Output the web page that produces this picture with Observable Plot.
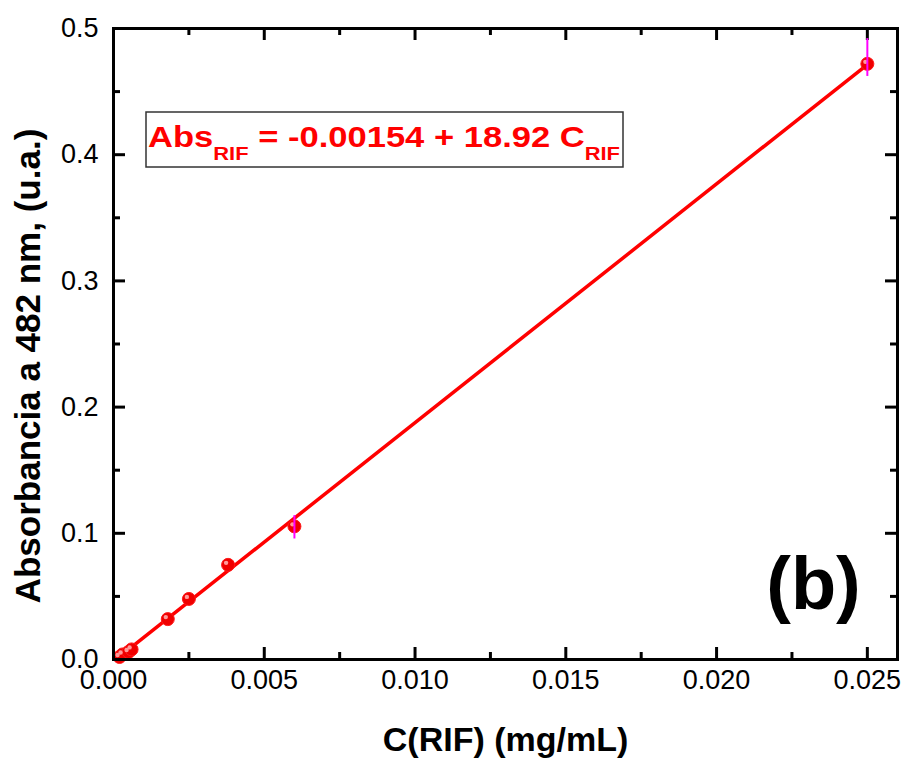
<!DOCTYPE html>
<html>
<head>
<meta charset="utf-8">
<script src="https://cdn.jsdelivr.net/npm/d3@7"></script>
<script src="https://cdn.jsdelivr.net/npm/@observablehq/plot@0.6"></script>
<style>
  html, body { margin: 0; padding: 0; background: #fff; }
  svg { font-family: "Liberation Sans", Arial, sans-serif; }
</style>
</head>
<body>
<div id="chart"></div>
<script>
// ---- data ----
const concRIF = [0.0002, 0.0003, 0.0005, 0.0006, 0.0018, 0.0025, 0.0038, 0.0060, 0.0250];
const absRIF  = [0.0020, 0.0040, 0.0060, 0.0080, 0.0320, 0.0480, 0.0750, 0.1055, 0.4720];
const errLow  = [null, null, null, null, null, null, null, 0.0955, 0.4620];
const errHigh = [null, null, null, null, null, null, null, 0.1140, 0.4920];
const fitIntercept = -0.00154;
const fitSlope = 18.92;
const fitRange = [0.0002, 0.0250];
const xMajorTicks = [0, 0.005, 0.010, 0.015, 0.020, 0.025];
const xMinorTicks = [0.0025, 0.0075, 0.0125, 0.0175, 0.0225];
const yMajorTicks = [0, 0.1, 0.2, 0.3, 0.4, 0.5];
const yMinorTicks = [0.05, 0.15, 0.25, 0.35, 0.45];
const xTitle = "C(RIF) (mg/mL)";
const yTitle = "Absorbancia a 482 nm, (u.a.)";
const panelLabel = "(b)";
const eqParts = [
  {text: "Abs", sub: false},
  {text: "RIF", sub: true},
  {text: " = -0.00154 + 18.92 C", sub: false},
  {text: "RIF", sub: true}
];

// ---- build tables ----
const points = concRIF.map((c, i) => ({x: c, y: absRIF[i], lo: errLow[i], hi: errHigh[i]}));
const errs = points.filter(d => d.lo != null);
const fitLine = fitRange.map(x => ({x, y: fitIntercept + fitSlope * x}));

// ---- layout ----
const W = 905, H = 760;
const mL = 113, mR = 8, mT = 28, mB = 101;
const pW = W - mL - mR, pH = H - mT - mB;
const majorLen = 12, minorLen = 7;
const font = "Liberation Sans, Arial, sans-serif";

const chart = Plot.plot({
  width: W, height: H,
  marginLeft: mL, marginRight: mR, marginTop: mT, marginBottom: mB,
  style: {fontFamily: font, background: "#fff", overflow: "visible"},
  x: {domain: [0, 0.026], axis: null},
  y: {domain: [0, 0.5], axis: null},
  marks: [
    // inward ticks: bottom / top
    Plot.tickX(xMajorTicks, {x: d => d, insetTop: pH - majorLen, stroke: "#000", strokeWidth: 3}),
    Plot.tickX(xMinorTicks, {x: d => d, insetTop: pH - minorLen, stroke: "#000", strokeWidth: 3}),
    Plot.tickX(xMajorTicks, {x: d => d, insetBottom: pH - majorLen, stroke: "#000", strokeWidth: 3}),
    Plot.tickX(xMinorTicks, {x: d => d, insetBottom: pH - minorLen, stroke: "#000", strokeWidth: 3}),
    // inward ticks: left / right
    Plot.tickY(yMajorTicks, {y: d => d, insetRight: pW - majorLen, stroke: "#000", strokeWidth: 3}),
    Plot.tickY(yMinorTicks, {y: d => d, insetRight: pW - minorLen, stroke: "#000", strokeWidth: 3}),
    Plot.tickY(yMajorTicks, {y: d => d, insetLeft: pW - majorLen, stroke: "#000", strokeWidth: 3}),
    Plot.tickY(yMinorTicks, {y: d => d, insetLeft: pW - minorLen, stroke: "#000", strokeWidth: 3}),
    // tick labels
    Plot.axisX({ticks: xMajorTicks, tickSize: 0, tickPadding: 10, tickFormat: d3.format(".3f"),
      fontSize: 27, label: null, fill: "#000"}),
    Plot.axisY({ticks: yMajorTicks, tickSize: 0, tickPadding: 15, tickFormat: d3.format(".1f"),
      fontSize: 27, label: null, fill: "#000"}),
    // fit line
    Plot.line(fitLine, {x: "x", y: "y", stroke: "#ff0000", strokeWidth: 3.5}),
    // data points (shaded sphere look)
    Plot.dot(points, {x: "x", y: "y", r: 6.5, fill: "#f00000", stroke: "#ff1a1a", strokeWidth: 1}),
    Plot.dot(points, {x: "x", y: "y", r: 2.2, fill: "#ff9a9a", dx: -2, dy: -2}),
    // error bars
    Plot.ruleX(errs, {x: "x", y1: "lo", y2: "hi", stroke: "#ff00ff", strokeWidth: 2}),
    // frame
    Plot.frame({stroke: "#000", strokeWidth: 3}),
    // axis titles
    Plot.text([xTitle], {frameAnchor: "bottom", dy: 81, text: d => d, fontSize: 34, fontWeight: "bold",
      fill: "#000", lineAnchor: "middle", textAnchor: "middle"}),
    Plot.text([yTitle], {frameAnchor: "left", dx: -85, dy: 22, text: d => d, rotate: -90, fontSize: 35,
      fontWeight: "bold", fill: "#000", lineAnchor: "middle", textAnchor: "middle"}),
    // panel label
    Plot.text([panelLabel], {frameAnchor: "bottom-right", dx: -84, dy: -74, text: d => d,
      fontSize: 74, fontWeight: "bold", fill: "#000", lineAnchor: "middle", textAnchor: "middle"})
  ]
});

// ---- equation annotation ----
const svg = d3.select(chart);
const g = svg.append("g").attr("text-anchor", "start");
g.append("rect")
  .attr("x", 146).attr("y", 112).attr("width", 477).attr("height", 55)
  .attr("fill", "#fff").attr("stroke", "#333").attr("stroke-width", 1.5);
const t = g.append("text")
  .attr("x", 148).attr("y", 147)
  .attr("text-anchor", "start")
  .attr("textLength", 472).attr("lengthAdjust", "spacingAndGlyphs")
  .attr("fill", "#ff0000").attr("font-weight", "bold").attr("font-size", 30)
  .attr("font-family", font);
let shifted = false;
eqParts.forEach(p => {
  const ts = t.append("tspan").text(p.text);
  if (p.sub) {
    ts.attr("font-size", 19).attr("dy", 13);
    shifted = true;
  } else if (shifted) {
    ts.attr("dy", -13);
    shifted = false;
  }
});

document.getElementById("chart").appendChild(chart);
</script>
</body>
</html>
